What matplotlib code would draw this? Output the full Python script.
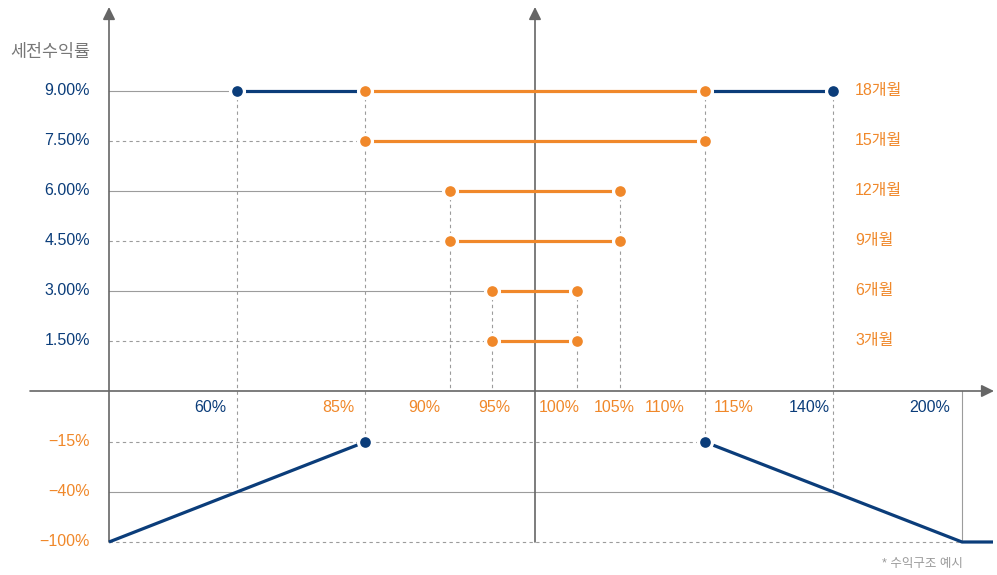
import numpy as np
import matplotlib
matplotlib.use('Agg')
import matplotlib.pyplot as plt

plt.rcParams['font.family'] = ['Liberation Sans', 'Noto Sans CJK KR']

# ---------------- data ----------------
months = ['3개월', '6개월', '9개월', '12개월', '15개월', '18개월']
coupons = [1.5, 3.0, 4.5, 6.0, 7.5, 9.0]
lower_barrier = [95, 95, 90, 90, 85, 85]
upper_barrier = [105, 105, 110, 110, 115, 115]
final_lower = 60
final_upper = 140
loss_left_x = [0, 85]
loss_left_y = [-100, -15]
loss_right_x = [115, 200]
loss_right_y = [-15, -100]
xtick_vals = [60, 85, 90, 95, 100, 105, 110, 115, 140, 200]
xtick_labels = ['60%', '85%', '90%', '95%', '100%', '105%', '110%', '115%', '140%', '200%']
ytick_pos_vals = [9.0, 7.5, 6.0, 4.5, 3.0, 1.5]
ytick_pos_labels = ['9.00%', '7.50%', '6.00%', '4.50%', '3.00%', '1.50%']
ytick_neg_vals = [-15, -40, -100]
ytick_neg_labels = ['\u221215%', '\u221240%', '\u2212100%']

# ---------------- layout (schematic scale) ----------------
W, H = 997, 575
X_KNOTS = [-100, 0, 60, 85, 90, 95, 100, 105, 110, 115, 140, 200, 240]
X_PIX = [0, 109, 237, 365, 450, 492, 535, 577, 620, 705, 833, 962, 997]
UP = (391 - 90.5) / 9.0
Y_KNOTS = [-130, -100, -40, -15, 0, 12]
Y_PIX = [0, H - 542, H - 492, H - 442, H - 391, H - (391 - 12 * UP)]


def fx(v):
    return np.interp(v, X_KNOTS, X_PIX)


def ifx(p):
    return np.interp(p, X_PIX, X_KNOTS)


def fy(v):
    return np.interp(v, Y_KNOTS, Y_PIX)


def ify(p):
    return np.interp(p, Y_PIX, Y_KNOTS)


def px_x(p):
    return float(ifx(p))


def px_y(ptop):
    return float(ify(H - ptop))


NAVY = '#0b3d7a'
ORANGE = '#f0882a'
GRID = '#9c9c9c'
AXIS = '#666666'
LABEL_GRAY = '#777777'

fig = plt.figure(figsize=(W / 100, H / 100), dpi=100)
ax = fig.add_axes([0, 0, 1, 1])
ax.set_xscale('function', functions=(fx, ifx))
ax.set_yscale('function', functions=(fy, ify))
ax.set_xlim(px_x(0), px_x(W))
ax.set_ylim(px_y(H), px_y(0))
ax.axis('off')

glw = 0.8
dash = (0, (3, 3))

# horizontal guide lines (alternating solid / dashed)
for i, (c, lb) in enumerate(zip(coupons, lower_barrier)):
    left_end = final_lower if c == max(coupons) else lb
    style = '-' if i % 2 == 1 else dash
    ax.plot([0, left_end], [c, c], color=GRID, lw=glw, ls=style, zorder=1)
ax.plot([0, loss_right_x[0]], [loss_left_y[1]] * 2, color=GRID, lw=glw, ls=dash, zorder=1)
ax.plot([0, final_upper], [ytick_neg_vals[1]] * 2, color=GRID, lw=glw, ls='-', zorder=1)
ax.plot([0, loss_right_x[1]], [loss_right_y[1]] * 2, color=GRID, lw=glw, ls=dash, zorder=1)

# vertical guide lines (one per level, from the highest row using it)
top_c = max(coupons)
for lvl, ybot in [(final_lower, -40), (final_upper, -40),
                  (lower_barrier[-1], -15), (upper_barrier[-1], -15)]:
    ax.plot([lvl, lvl], [top_c, ybot], color=GRID, lw=glw, ls=dash, zorder=1)
tops = {}
for c, lb, ub in zip(coupons, lower_barrier, upper_barrier):
    for lvl in (lb, ub):
        if lvl in (lower_barrier[-1], upper_barrier[-1]):
            continue
        tops[lvl] = max(tops.get(lvl, c), c)
for lvl, c in tops.items():
    ax.plot([lvl, lvl], [c, 0], color=GRID, lw=glw, ls=dash, zorder=1)
ax.plot([loss_right_x[1]] * 2, [0, loss_right_y[1]], color=GRID, lw=glw, ls='-', zorder=1)

# axes with arrows
arrow_kw = dict(arrowstyle='-|>,head_length=0.75,head_width=0.37', color=AXIS,
                lw=1.2, shrinkA=0, shrinkB=0, mutation_scale=10)
ax.annotate('', xy=(0, px_y(7)), xytext=(0, -100), arrowprops=arrow_kw, zorder=2)
ax.annotate('', xy=(100, px_y(7)), xytext=(100, -100), arrowprops=arrow_kw, zorder=2)
ax.annotate('', xy=(px_x(994), 0), xytext=(px_x(30), 0), arrowprops=arrow_kw, zorder=2)

# payoff lines
plw = 2.3
for c, lb, ub in zip(coupons, lower_barrier, upper_barrier):
    ax.plot([lb, ub], [c, c], color=ORANGE, lw=plw, zorder=3, solid_capstyle='butt')
ax.plot([final_lower, lower_barrier[-1]], [top_c, top_c], color=NAVY, lw=plw, zorder=3)
ax.plot([upper_barrier[-1], final_upper], [top_c, top_c], color=NAVY, lw=plw, zorder=3)
ax.plot(loss_left_x, loss_left_y, color=NAVY, lw=plw, zorder=3, solid_capstyle='butt')
ax.plot(loss_right_x + [px_x(993)], loss_right_y + [loss_right_y[-1]], color=NAVY, lw=plw,
        zorder=3, solid_capstyle='butt')

# markers
mk = dict(marker='o', ms=10, mew=2.3, mec='white', ls='none', zorder=5)
ax.plot(lower_barrier + upper_barrier, coupons + coupons, mfc=ORANGE, **mk)
ax.plot([final_lower, final_upper], [top_c, top_c], mfc=NAVY, **mk)
ax.plot([loss_left_x[1], loss_right_x[0]], [loss_left_y[1], loss_right_y[0]], mfc=NAVY, **mk)

fs = 11.5
fw = 'medium'
# x labels
XLABEL_PX = [210, 338.5, 424, 494, 559.5, 614, 665, 734, 809, 930]
for v, lab, p in zip(xtick_vals, xtick_labels, XLABEL_PX):
    col = NAVY if v in (final_lower, final_upper, loss_right_x[1]) else ORANGE
    ax.text(px_x(p), px_y(408), lab, ha='center', va='center', color=col, fontsize=fs,
            fontweight=fw)

# y labels
for v, lab in zip(ytick_pos_vals, ytick_pos_labels):
    ax.text(px_x(90), v, lab, ha='right', va='center', color=NAVY, fontsize=fs, fontweight=fw)
for v, lab in zip(ytick_neg_vals, ytick_neg_labels):
    ax.text(px_x(90), v, lab, ha='right', va='center', color=ORANGE, fontsize=fs,
            fontweight=fw)

# right labels
for c, m in zip(coupons, months):
    ax.text(px_x(855), c, m, ha='left', va='center', color=ORANGE, fontsize=fs,
            fontweight=fw)

ax.text(px_x(90), px_y(52), '세전수익률', ha='right', va='center', color=LABEL_GRAY,
        fontsize=12.5, fontweight=fw)
ax.text(px_x(963), px_y(564), '* 수익구조 예시', ha='right', va='center', color='#999999',
        fontsize=9)

fig.savefig('out.png', dpi=100)
